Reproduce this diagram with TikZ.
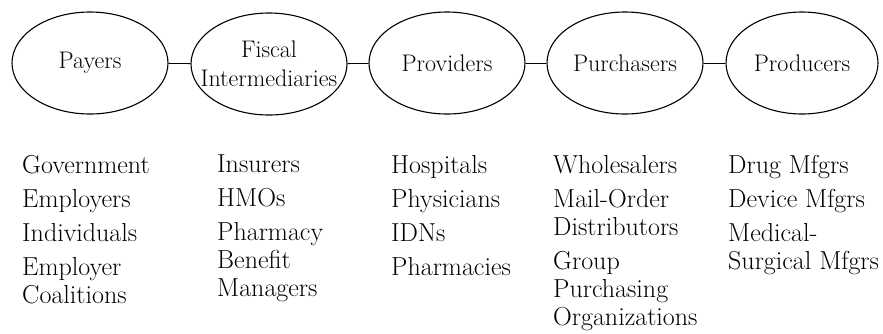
\documentclass[tikz,border=0pt]{standalone}
\usetikzlibrary{shapes.geometric}

\begin{document}
\begin{tikzpicture}[
    x=1pt, y=-1pt,
    party/.style={draw, ellipse, minimum width=156pt, minimum height=102pt, inner sep=-30pt, line width=1.1pt, align=center, font=\fontsize{24}{29}\selectfont},
    members/.style={anchor=north west, inner sep=0pt, align=left, font=\fontsize{26}{28}\selectfont},
    link/.style={line width=0.9pt}
]
    \useasboundingbox (0,0) rectangle (883,333);

    % the five parties along the chain
    \node[party] (payers) at (90,63) {Payers};
    \node[party] (fiscal) at (269,64) {Fiscal\\Intermediaries};
    \node[party] (providers) at (447,63) {Providers};
    \node[party] (purchasers) at (625,63) {Purchasers};
    \node[party, minimum width=152pt] (producers) at (802,63) {Producers};

    \draw[link] (payers) -- (fiscal);
    \draw[link] (fiscal) -- (providers);
    \draw[link] (providers) -- (purchasers);
    \draw[link] (purchasers) -- (producers);

    % who sits in each group
    \node[members] (payers_list) at (22,155) {Government\\[6pt]Employers\\[6pt]Individuals\\[6pt]Employer\\Coalitions};
    \node[members] (fiscal_list) at (217,155) {Insurers\\[6pt]HMOs\\[6pt]Pharmacy\\Benefit\\Managers};
    \node[members] (providers_list) at (391,155) {Hospitals\\[6pt]Physicians\\[6pt]IDNs\\[6pt]Pharmacies};
    \node[members] (purchasers_list) at (553,155) {Wholesalers\\[6pt]Mail-Order\\Distributors\\[6pt]Group\\Purchasing\\Organizations};
    \node[members] (producers_list) at (728,155) {Drug Mfgrs\\[6pt]Device Mfgrs\\[6pt]Medical-\\Surgical Mfgrs};

\end{tikzpicture}
\end{document}
